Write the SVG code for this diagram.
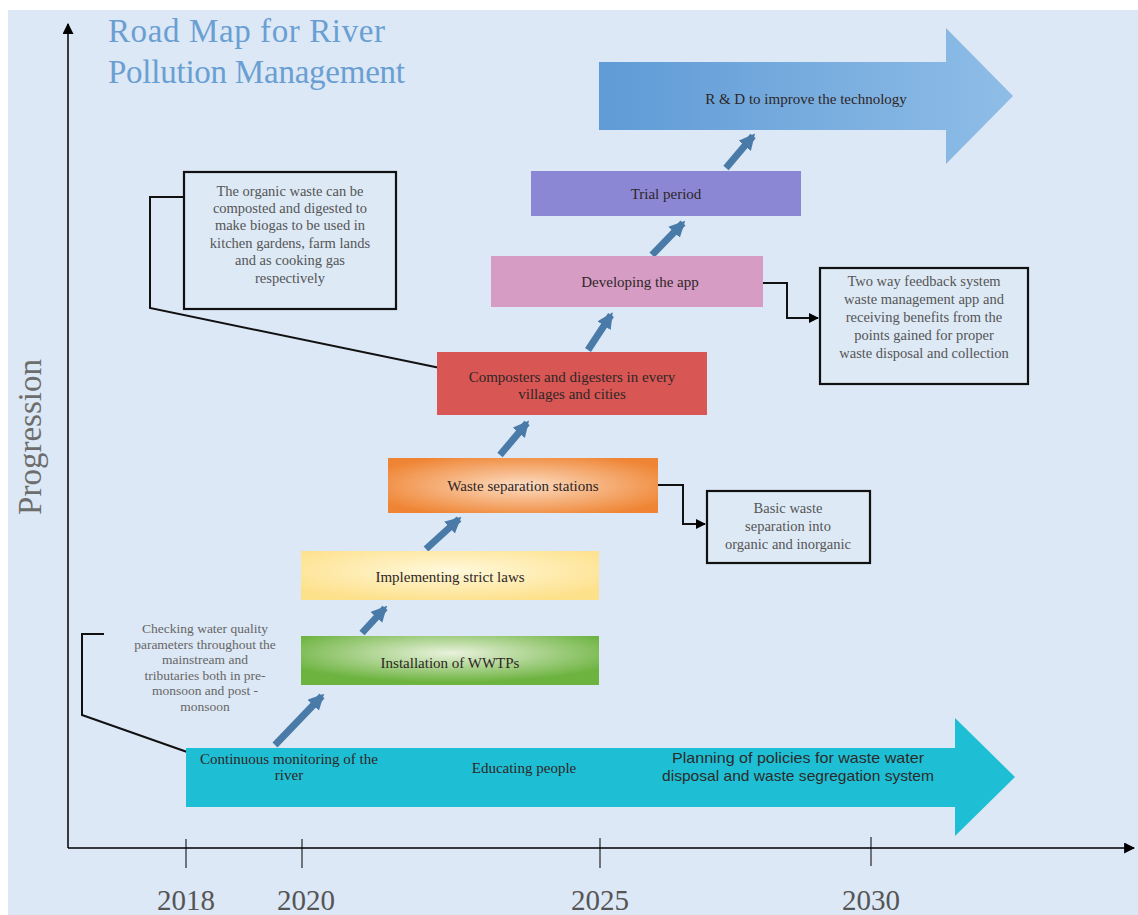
<svg xmlns="http://www.w3.org/2000/svg" width="1138" height="915" viewBox="0 0 1138 915">
<defs>
<style>
.bg{fill:#dce8f5}
.axis{stroke:#000;stroke-width:1.5;fill:none}
.tick{stroke:#000;stroke-width:1}
.year{font-family:"Liberation Serif",serif;font-size:29px;fill:#555}
.lbl{font-family:"Liberation Serif",serif;font-size:15px;fill:#2e2626;text-anchor:middle}
.note{font-family:"Liberation Serif",serif;font-size:14.5px;fill:#555;text-anchor:middle}
.small{font-family:"Liberation Serif",serif;font-size:13.5px;fill:#666;text-anchor:middle}
.narrow{font-family:"Liberation Sans",sans-serif;font-size:14.5px;fill:#2b2b2b;text-anchor:middle}
.box{fill:#dde9f5;stroke:#111;stroke-width:2.2}
.con{stroke:#111;stroke-width:2;fill:none}
.prog{stroke:#4a7aa8;stroke-width:7;fill:none}
</style>
<marker id="ah" viewBox="0 0 10 10" refX="9" refY="5" markerWidth="10" markerHeight="10" markerUnits="userSpaceOnUse" orient="auto">
<path d="M0,0 L10,5 L0,10 z" fill="#000"/>
</marker>
<marker id="axh" viewBox="0 0 10 10" refX="9" refY="5" markerWidth="11" markerHeight="11" markerUnits="userSpaceOnUse" orient="auto">
<path d="M0,0 L10,5 L0,10 z" fill="#000"/>
</marker>
<marker id="bh" viewBox="0 0 10 10" refX="8" refY="5" markerWidth="16" markerHeight="16" markerUnits="userSpaceOnUse" orient="auto">
<path d="M0,0 L10,5 L0,10 z" fill="#4a7aa8"/>
</marker>
<linearGradient id="gRD" x1="0" y1="0" x2="1" y2="0">
<stop offset="0" stop-color="#5f9bd6"/>
<stop offset="1" stop-color="#8fbde7"/>
</linearGradient>
<radialGradient id="gOr" cx="0.5" cy="0.5" r="0.6">
<stop offset="0" stop-color="#fcdcc2"/>
<stop offset="1" stop-color="#ef8534"/>
</radialGradient>
<radialGradient id="gYe" cx="0.5" cy="0.4" r="0.65">
<stop offset="0" stop-color="#fff8da"/>
<stop offset="1" stop-color="#fde08a"/>
</radialGradient>
<radialGradient id="gGr" cx="0.5" cy="0.35" r="0.6">
<stop offset="0" stop-color="#e9f2dc"/>
<stop offset="1" stop-color="#6cb33f"/>
</radialGradient>
</defs>

<rect x="0" y="0" width="1138" height="915" fill="#fff"/>
<rect class="bg" x="8" y="10" width="1130" height="905"/>

<g id="title">
<text x="108" y="42" font-family="Liberation Serif,serif" font-size="33" fill="#6a9fd3" textLength="277">Road Map for River</text>
<text x="108" y="83" font-family="Liberation Serif,serif" font-size="33" fill="#6a9fd3" textLength="297">Pollution Management</text>
</g>

<g id="axes">
<line class="axis" x1="68" y1="848" x2="68" y2="24" marker-end="url(#axh)"/>
<line class="axis" x1="68" y1="848" x2="1134" y2="848" marker-end="url(#axh)"/>
<line class="tick" x1="186" y1="839" x2="186" y2="868"/>
<line class="tick" x1="302" y1="839" x2="302" y2="868"/>
<line class="tick" x1="600" y1="838" x2="600" y2="868"/>
<line class="tick" x1="871" y1="837" x2="871" y2="866"/>
<text class="year" x="186" y="910" text-anchor="middle">2018</text>
<text class="year" x="306" y="910" text-anchor="middle">2020</text>
<text class="year" x="600" y="910" text-anchor="middle">2025</text>
<text class="year" x="871" y="910" text-anchor="middle">2030</text>
<text x="30" y="437" transform="rotate(-90 30 437)" text-anchor="middle" dominant-baseline="central" font-family="Liberation Serif,serif" font-size="33" fill="#6d6d6d">Progression</text>
</g>

<g id="connectors">
<line class="prog" x1="275" y1="745" x2="322" y2="696" marker-end="url(#bh)"/>
<line class="prog" x1="362" y1="633" x2="385" y2="608" marker-end="url(#bh)"/>
<line class="prog" x1="426" y1="549" x2="459" y2="519" marker-end="url(#bh)"/>
<line class="prog" x1="500" y1="455" x2="527" y2="423" marker-end="url(#bh)"/>
<line class="prog" x1="588" y1="350" x2="611" y2="315" marker-end="url(#bh)"/>
<line class="prog" x1="652" y1="255" x2="683" y2="223" marker-end="url(#bh)"/>
<line class="prog" x1="726" y1="168" x2="753" y2="136" marker-end="url(#bh)"/>
<polyline class="con" points="104,634 82,634 82,715 190,753"/>
<polyline class="con" points="184,197 150,197 150,308 445,369"/>
<polyline class="con" points="763,283 787,283 787,318 818,318" marker-end="url(#ah)"/>
<polyline class="con" points="658,485 683,485 683,524 705,524" marker-end="url(#ah)"/>
</g>

<g id="baseline-arrow">
<polygon points="186,748 955,748 955,718 1015,777 955,836 955,807 186,807" fill="#1ebfd4"/>
<text class="lbl" x="289" y="764" font-size="14">Continuous monitoring of the</text>
<text class="lbl" x="289" y="780" font-size="14">river</text>
<text class="lbl" x="524" y="773" font-size="14">Educating people</text>
<text class="narrow" x="798" y="763" textLength="252" lengthAdjust="spacingAndGlyphs">Planning of policies for waste water</text>
<text class="narrow" x="798" y="781" textLength="272" lengthAdjust="spacingAndGlyphs">disposal and waste segregation system</text>
</g>

<g id="rd-arrow">
<polygon points="599,62 946,62 946,28 1013,96 946,164 946,130 599,130" fill="url(#gRD)"/>
<text class="lbl" x="806" y="104" font-size="14.5">R &amp; D to improve the technology</text>
</g>

<g id="trial">
<rect x="531" y="171" width="270" height="45" fill="#8b87d4"/>
<text class="lbl" x="666" y="199">Trial period</text>
</g>

<g id="app">
<rect x="491" y="256" width="272" height="51" fill="#d69cc4"/>
<text class="lbl" x="640" y="287">Developing the app</text>
</g>

<g id="composters">
<rect x="437" y="352" width="270" height="63" fill="#d85654"/>
<text class="lbl" x="572" y="382" fill="#3a1010">Composters and digesters in every</text>
<text class="lbl" x="572" y="399" fill="#3a1010">villages and cities</text>
</g>

<g id="separation">
<rect x="388" y="458" width="270" height="55" fill="url(#gOr)"/>
<text class="lbl" x="523" y="491" fill="#3a2010">Waste separation stations</text>
</g>

<g id="laws">
<rect x="301" y="551" width="298" height="49" fill="url(#gYe)"/>
<text class="lbl" x="450" y="582">Implementing strict laws</text>
</g>

<g id="wwtp">
<rect x="301" y="636" width="298" height="49" fill="url(#gGr)"/>
<text class="lbl" x="450" y="668">Installation of WWTPs</text>
</g>

<g id="note-organic">
<rect class="box" x="184" y="172" width="212" height="137"/>
<text class="note" x="290" y="196">The organic  waste can be</text>
<text class="note" x="290" y="213">composted and digested to</text>
<text class="note" x="290" y="230">make biogas to be used in</text>
<text class="note" x="290" y="248">kitchen gardens,  farm lands</text>
<text class="note" x="290" y="265">and as cooking  gas</text>
<text class="note" x="290" y="283">respectively</text>
</g>

<g id="note-feedback">
<rect class="box" x="820" y="268" width="208" height="116"/>
<text class="note" x="924" y="286" font-size="15">Two way feedback system</text>
<text class="note" x="924" y="304" font-size="15">waste management  app and</text>
<text class="note" x="924" y="322" font-size="15">receiving  benefits from the</text>
<text class="note" x="924" y="340" font-size="15">points gained for proper</text>
<text class="note" x="924" y="358" font-size="15">waste disposal and collection</text>
</g>

<g id="note-basic">
<rect class="box" x="707" y="491" width="163" height="72"/>
<text class="note" x="788" y="513" font-size="15">Basic waste</text>
<text class="note" x="788" y="531" font-size="15">separation into</text>
<text class="note" x="788" y="549" font-size="15">organic  and inorganic</text>
</g>

<g id="note-checking">
<text class="small" x="205" y="633">Checking water quality</text>
<text class="small" x="205" y="649">parameters throughout the</text>
<text class="small" x="205" y="664">mainstream and</text>
<text class="small" x="205" y="680">tributaries both in pre-</text>
<text class="small" x="205" y="695">monsoon and post -</text>
<text class="small" x="205" y="711">monsoon</text>
</g>
</svg>
